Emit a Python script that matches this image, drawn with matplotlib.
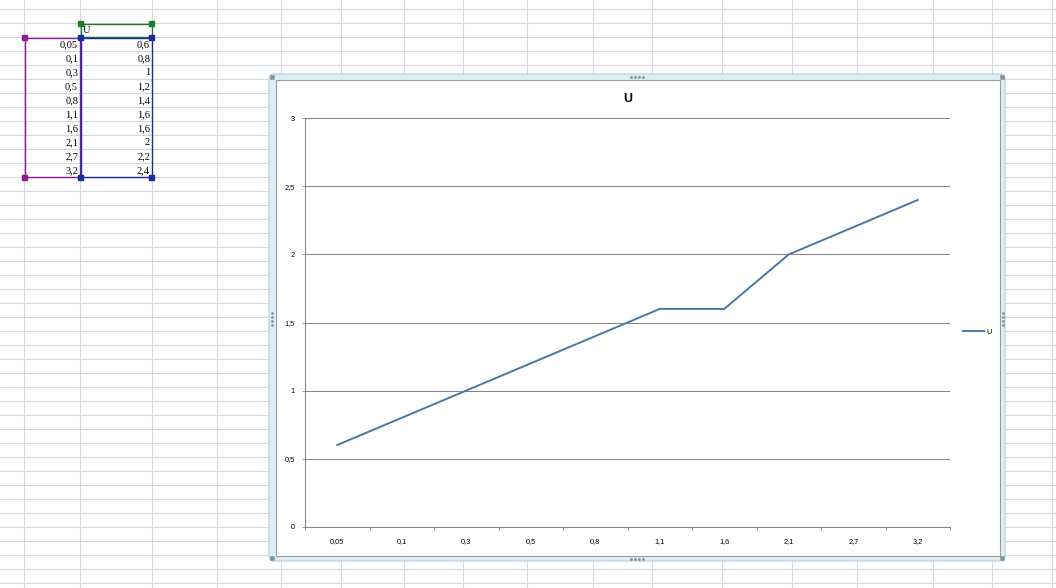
import matplotlib.pyplot as plt
from matplotlib.patches import Rectangle, FancyBboxPatch

# data as typed in the sheet
categories = ['0,05', '0,1', '0,3', '0,5', '0,8', '1,1', '1,6', '2,1', '2,7', '3,2']
u_values = [0.6, 0.8, 1, 1.2, 1.4, 1.6, 1.6, 2, 2.2, 2.4]
y_ticks = [0, 0.5, 1, 1.5, 2, 2.5, 3]
series_name = 'U'

W, H = 1056, 588
fig = plt.figure(figsize=(W / 100, H / 100), dpi=100)
fig.patch.set_facecolor('white')

# ---- spreadsheet background, pixel coordinates
bg = fig.add_axes([0, 0, 1, 1])
bg.set_xlim(0, W)
bg.set_ylim(H, 0)
bg.axis('off')

grid_c = '#D4D9E1'
col_x = [24.3, 80.3, 152.3, 216.7, 280.5, 340.7, 404.3, 463.3, 526.7,
         592.7, 651.7, 721.7, 791.7, 856.7, 932.7, 991.7, 1052]
row_y = [9.3 + 14 * i for i in range(42)]
bg.vlines(col_x, 0, H, color=grid_c, lw=0.8, zorder=1)
bg.hlines(row_y, 0, W, color=grid_c, lw=0.8, zorder=1)

# cell contents
sheet_font = dict(family='Liberation Serif', fontsize=7.5, color='black', zorder=5)
bg.text(83, 30.5, series_name, ha='left', va='center', **sheet_font)
for i, (c, v) in enumerate(zip(categories, u_values)):
    yc = 44.3 + 14 * i
    bg.text(78, yc, c, ha='right', va='center', **sheet_font)
    bg.text(150, yc, ('%g' % v).replace('.', ','), ha='right', va='center', **sheet_font)

# selection range outlines (chart source data)
purple, green, blue = '#8E1E90', '#1E7A28', '#1C2A9C'
bg.add_patch(Rectangle((24.8, 37.5), 55.5, 139.5, fill=False, ec=purple, lw=1.0, zorder=4))
bg.add_patch(Rectangle((80.8, 23.8), 71, 13.7, fill=False, ec=green, lw=1.0, zorder=4))
bg.add_patch(Rectangle((80.8, 37.5), 71, 139.5, fill=False, ec=blue, lw=1.0, zorder=4))


def handle(x, y, c):
    bg.add_patch(Rectangle((x - 2.5, y - 2.5), 5, 5, fc=c, ec=c, zorder=6))


handle(24.8, 37.5, purple)
handle(24.8, 177, purple)
handle(80.8, 23.8, green)
handle(151.8, 23.8, green)
for hx, hy in [(80.8, 37.5), (151.8, 37.5), (80.8, 177), (151.8, 177)]:
    handle(hx, hy, blue)

# chart object frame (selected)
bg.add_patch(FancyBboxPatch((269, 74), 736, 487, boxstyle='round,pad=0,rounding_size=5',
                            fc='#DDEEF5', ec='#B5CEDA', lw=0.8, zorder=3))
bg.add_patch(Rectangle((275.5, 79.5), 724, 476, fc='white', ec='#9A9A9A', lw=0.8, zorder=3.5))

dot_c = '#7E919C'
for cx, cy in [(272, 77), (1002, 77), (272, 558), (1002, 558)]:
    bg.plot([cx - 1.2, cx + 1.2, cx - 1.2, cx + 1.2], [cy - 1.2, cy - 1.2, cy + 1.2, cy + 1.2],
            ls='none', marker='s', ms=0.9, color=dot_c, zorder=6)
for mx in [630.5, 634.5, 638.5, 642.5]:
    bg.plot([mx, mx], [76.5, 559], ls='none', marker='s', ms=0.9, color=dot_c, zorder=6)
for my in [312.5, 316.5, 320.5, 324.5]:
    bg.plot([271.5, 1003], [my, my], ls='none', marker='s', ms=0.9, color=dot_c, zorder=6)

# ---- the chart itself
left, right, top, bottom = 305, 950, 118.3, 526.7
ax = fig.add_axes([left / W, (H - bottom) / H, (right - left) / W, (bottom - top) / H])
ax.set_facecolor('none')

x = list(range(len(categories)))
ax.plot(x, u_values, color='#4A78A6', lw=1.4, solid_joinstyle='round', label=series_name)

gray = '#868686'
ax.set_xlim(-0.5, len(categories) - 0.5)
ax.set_ylim(0, 3)
ax.set_yticks(y_ticks)
ax.set_yticklabels([('%g' % t).replace('.', ',') for t in y_ticks])
ax.yaxis.grid(True, color=gray, lw=0.75)
ax.set_axisbelow(True)

ax.set_xticks([i - 0.5 for i in range(len(categories) + 1)])
ax.set_xticklabels([])
ax.set_xticks(x, minor=True)
ax.set_xticklabels(categories, minor=True)

tick_font = 'Liberation Sans'
ax.tick_params(axis='x', which='major', direction='out', length=2.5, width=0.6, color=gray)
ax.tick_params(axis='x', which='minor', length=0, pad=8, labelsize=5.3, labelfontfamily=tick_font)
ax.tick_params(axis='y', direction='out', length=2.5, width=0.6, color=gray, pad=5,
               labelsize=5.3, labelfontfamily=tick_font)

for s in ['top', 'right']:
    ax.spines[s].set_visible(False)
for s in ['left', 'bottom']:
    ax.spines[s].set_color(gray)
    ax.spines[s].set_linewidth(0.75)

ax.set_title(series_name, fontsize=9, fontweight='bold', family=tick_font, pad=12)

ax.legend(loc='center left', bbox_to_anchor=(963 / W, 1 - 332 / H), bbox_transform=fig.transFigure,
          frameon=False, prop={'family': tick_font, 'size': 5.3},
          handlelength=2.8, handletextpad=0.4, borderpad=0, borderaxespad=0)

fig.savefig('out.png', dpi=100)
